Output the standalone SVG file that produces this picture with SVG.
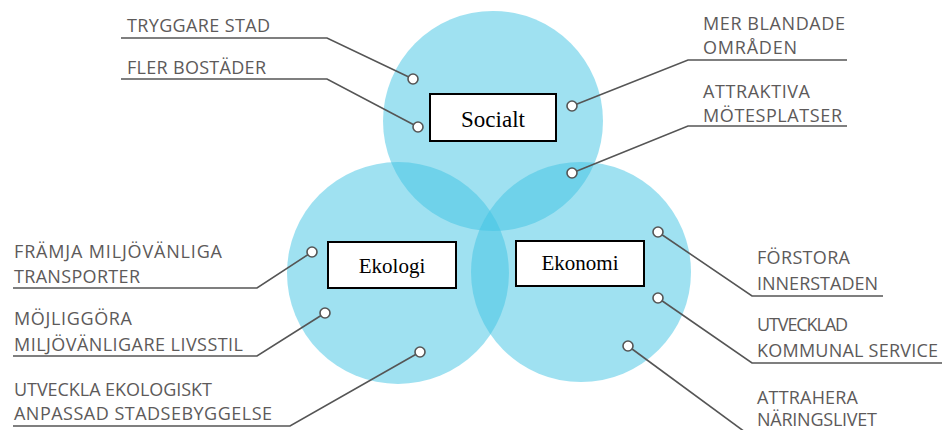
<svg xmlns="http://www.w3.org/2000/svg" width="942" height="430" viewBox="0 0 942 430">
<style>
.c{fill:#40c4e4;fill-opacity:0.5}
.b{fill:#fff;stroke:#000;stroke-width:2}
.bt{font-family:"Liberation Serif",serif;fill:#000;text-anchor:middle}
.l{font-family:"Open Sans","Liberation Sans",sans-serif;font-size:18px;fill:#5d5a5a}
.ln{fill:none;stroke:#555;stroke-width:1.6}
.d{fill:#fff;stroke:#555;stroke-width:1.6}
</style>
<rect width="942" height="430" fill="#fff"/>
<g id="circles">
<circle class="c" cx="493" cy="121" r="110"/>
<circle class="c" cx="398" cy="273" r="111"/>
<circle class="c" cx="581" cy="272" r="110"/>
</g>
<g id="connectors">
<polyline class="ln" points="121,38 327,38 413,79"/>
<polyline class="ln" points="121,79 327,79 418,127"/>
<polyline class="ln" points="847,60 688,60 572,106"/>
<polyline class="ln" points="847,126 688,126 572,173"/>
<polyline class="ln" points="13,288 257,288 312,252"/>
<polyline class="ln" points="13,356 257,356 325,313"/>
<polyline class="ln" points="13,426 290,426 420,352"/>
<polyline class="ln" points="883,296 752,296 658,232"/>
<polyline class="ln" points="942,363 752,363 658,298"/>
<polyline class="ln" points="628,346 745,432"/>
<circle class="d" cx="413" cy="79" r="5"/>
<circle class="d" cx="418" cy="127" r="5"/>
<circle class="d" cx="572" cy="106" r="5"/>
<circle class="d" cx="572" cy="173" r="5"/>
<circle class="d" cx="312" cy="252" r="5"/>
<circle class="d" cx="325" cy="313" r="5"/>
<circle class="d" cx="420" cy="352" r="5"/>
<circle class="d" cx="658" cy="232" r="5"/>
<circle class="d" cx="658" cy="298" r="5"/>
<circle class="d" cx="628" cy="346" r="5"/>
</g>
<g id="socialt">
<rect class="b" x="430" y="94" width="126" height="47"/>
<text class="bt" x="493" y="127" font-size="23">Socialt</text>
</g>
<g id="ekologi">
<rect class="b" x="328" y="242" width="128" height="46"/>
<text class="bt" x="392" y="273" font-size="21">Ekologi</text>
</g>
<g id="ekonomi">
<rect class="b" x="516" y="241" width="128" height="45"/>
<text class="bt" x="580" y="270" font-size="21">Ekonomi</text>
</g>
<g id="labels">
<text class="l" x="127" y="32" textLength="143" lengthAdjust="spacing">TRYGGARE STAD</text>
<text class="l" x="127" y="74" textLength="139" lengthAdjust="spacing">FLER BOSTÄDER</text>
<text class="l" x="703" y="30" textLength="142" lengthAdjust="spacing">MER BLANDADE</text>
<text class="l" x="703" y="54" textLength="94" lengthAdjust="spacing">OMRÅDEN</text>
<text class="l" x="703" y="98" textLength="107" lengthAdjust="spacing">ATTRAKTIVA</text>
<text class="l" x="703" y="122" textLength="139" lengthAdjust="spacing">MÖTESPLATSER</text>
<text class="l" x="14" y="258" textLength="208" lengthAdjust="spacing">FRÄMJA MILJÖVÄNLIGA</text>
<text class="l" x="14" y="283" textLength="126" lengthAdjust="spacing">TRANSPORTER</text>
<text class="l" x="14" y="325" textLength="118" lengthAdjust="spacing">MÖJLIGGÖRA</text>
<text class="l" x="14" y="351" textLength="229" lengthAdjust="spacing">MILJÖVÄNLIGARE LIVSSTIL</text>
<text class="l" x="14" y="396" textLength="198" lengthAdjust="spacing">UTVECKLA EKOLOGISKT</text>
<text class="l" x="14" y="420" textLength="258" lengthAdjust="spacing">ANPASSAD STADSEBYGGELSE</text>
<text class="l" x="757" y="264" textLength="93" lengthAdjust="spacing">FÖRSTORA</text>
<text class="l" x="757" y="290" textLength="121" lengthAdjust="spacing">INNERSTADEN</text>
<text class="l" x="757" y="331" textLength="91" lengthAdjust="spacing">UTVECKLAD</text>
<text class="l" x="757" y="357" textLength="181" lengthAdjust="spacing">KOMMUNAL SERVICE</text>
<text class="l" x="757" y="404" textLength="101" lengthAdjust="spacing">ATTRAHERA</text>
<text class="l" x="757" y="426" textLength="120" lengthAdjust="spacing">NÄRINGSLIVET</text>
</g>
</svg>
